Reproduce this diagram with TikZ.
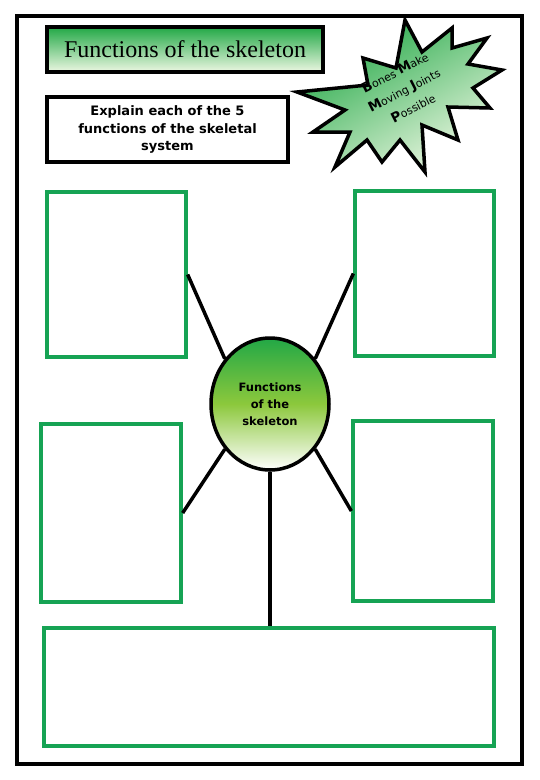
\documentclass[tikz,border=0pt]{standalone}
\usepackage{fontspec}
\setmainfont{Liberation Serif}
\newfontfamily\comicfont{DejaVu Sans}
\usepackage{tikz}
\usetikzlibrary{shapes.geometric}
\usepackage{xcolor}
\definecolor{gruen}{RGB}{22,163,84}
\definecolor{dunkelgruen}{RGB}{34,168,70}
\definecolor{mittelgruen}{RGB}{140,200,60}
\definecolor{hellgruen}{RGB}{236,247,226}
\newcommand{\gross}[1]{{\bfseries\fontsize{13.5}{20}\selectfont #1}}

\begin{document}
\begin{tikzpicture}[x=1pt, y=-1pt,
        feld/.style={draw=gruen, line width=3.3pt, inner sep=0pt},
        kasten/.style={draw=black, line width=4pt, inner sep=0pt},
        speiche/.style={draw=black, line width=3.5pt}]
        \useasboundingbox (0,0) rectangle (540,780);

        % Rahmen
        \draw[line width=4pt] (17,16) rectangle (522,764);

        % Titel
        \node (titel) [kasten, top color=dunkelgruen, bottom color=hellgruen,
            minimum width=276pt, minimum height=45pt] at (185,49.5)
            {\fontsize{24}{26}\selectfont Functions of the skeleton};

        % Aufgabe
        \node (aufgabe) [kasten, fill=white, minimum width=241pt, minimum height=65pt,
            align=center, font=\comicfont\bfseries\fontsize{13}{17.5}\selectfont] at (167.5,129.5)
            {Explain each of the 5\\functions of the skeletal\\system};

        % Stern
        \draw[line width=3.5pt, line join=miter, top color=dunkelgruen, bottom color=hellgruen, shading angle=30]
            (405,20) -- (422,52) -- (452,28) -- (452,48) -- (487,38) -- (468,64) -- (502,70)
            -- (473,88) -- (490,108) -- (448,107) -- (458,140) -- (422,125) -- (425,172)
            -- (400,140) -- (382,162) -- (367,140) -- (335,167) -- (350,132) -- (313,132)
            -- (345,110) -- (297,92) -- (368,85) -- (363,58) -- (396,68) -- cycle;
        \node (motto) [rotate=27, align=center, inner sep=0pt,
            font=\comicfont\fontsize{11}{20}\selectfont] at (404,90)
            {\gross{B}ones \gross{M}ake\\
             \gross{M}oving \gross{J}oints\\
             \gross{P}ossible};

        % Felder
        \node (lo) [feld, minimum width=139pt, minimum height=165pt] at (116.5,274.5) {};
        \node (ro) [feld, minimum width=139pt, minimum height=165pt] at (424.5,273.5) {};
        \node (lm) [feld, minimum width=140pt, minimum height=178pt] at (111,513) {};
        \node (rm) [feld, minimum width=140pt, minimum height=180pt] at (423,511) {};
        \node (unten) [feld, minimum width=450pt, minimum height=118pt] at (269,687) {};

        % Mitte
        \node (mitte) [ellipse, draw=black, line width=3.5pt, inner sep=0pt,
            minimum width=118pt, minimum height=132pt,
            top color=dunkelgruen, bottom color=white, middle color=mittelgruen,
            align=center, font=\comicfont\bfseries\fontsize{11.5}{17}\selectfont] at (270,404)
            {Functions\\of the\\skeleton};

        % Speichen
        \draw[speiche] (lo.east) -- (mitte.135);
        \draw[speiche] (ro.west) -- (mitte.45);
        \draw[speiche] (lm.east) -- (mitte.225);
        \draw[speiche] (rm.west) -- (mitte.315);
        \draw[speiche] (mitte.south) -- (mitte.south |- unten.north);
\end{tikzpicture}
\end{document}
